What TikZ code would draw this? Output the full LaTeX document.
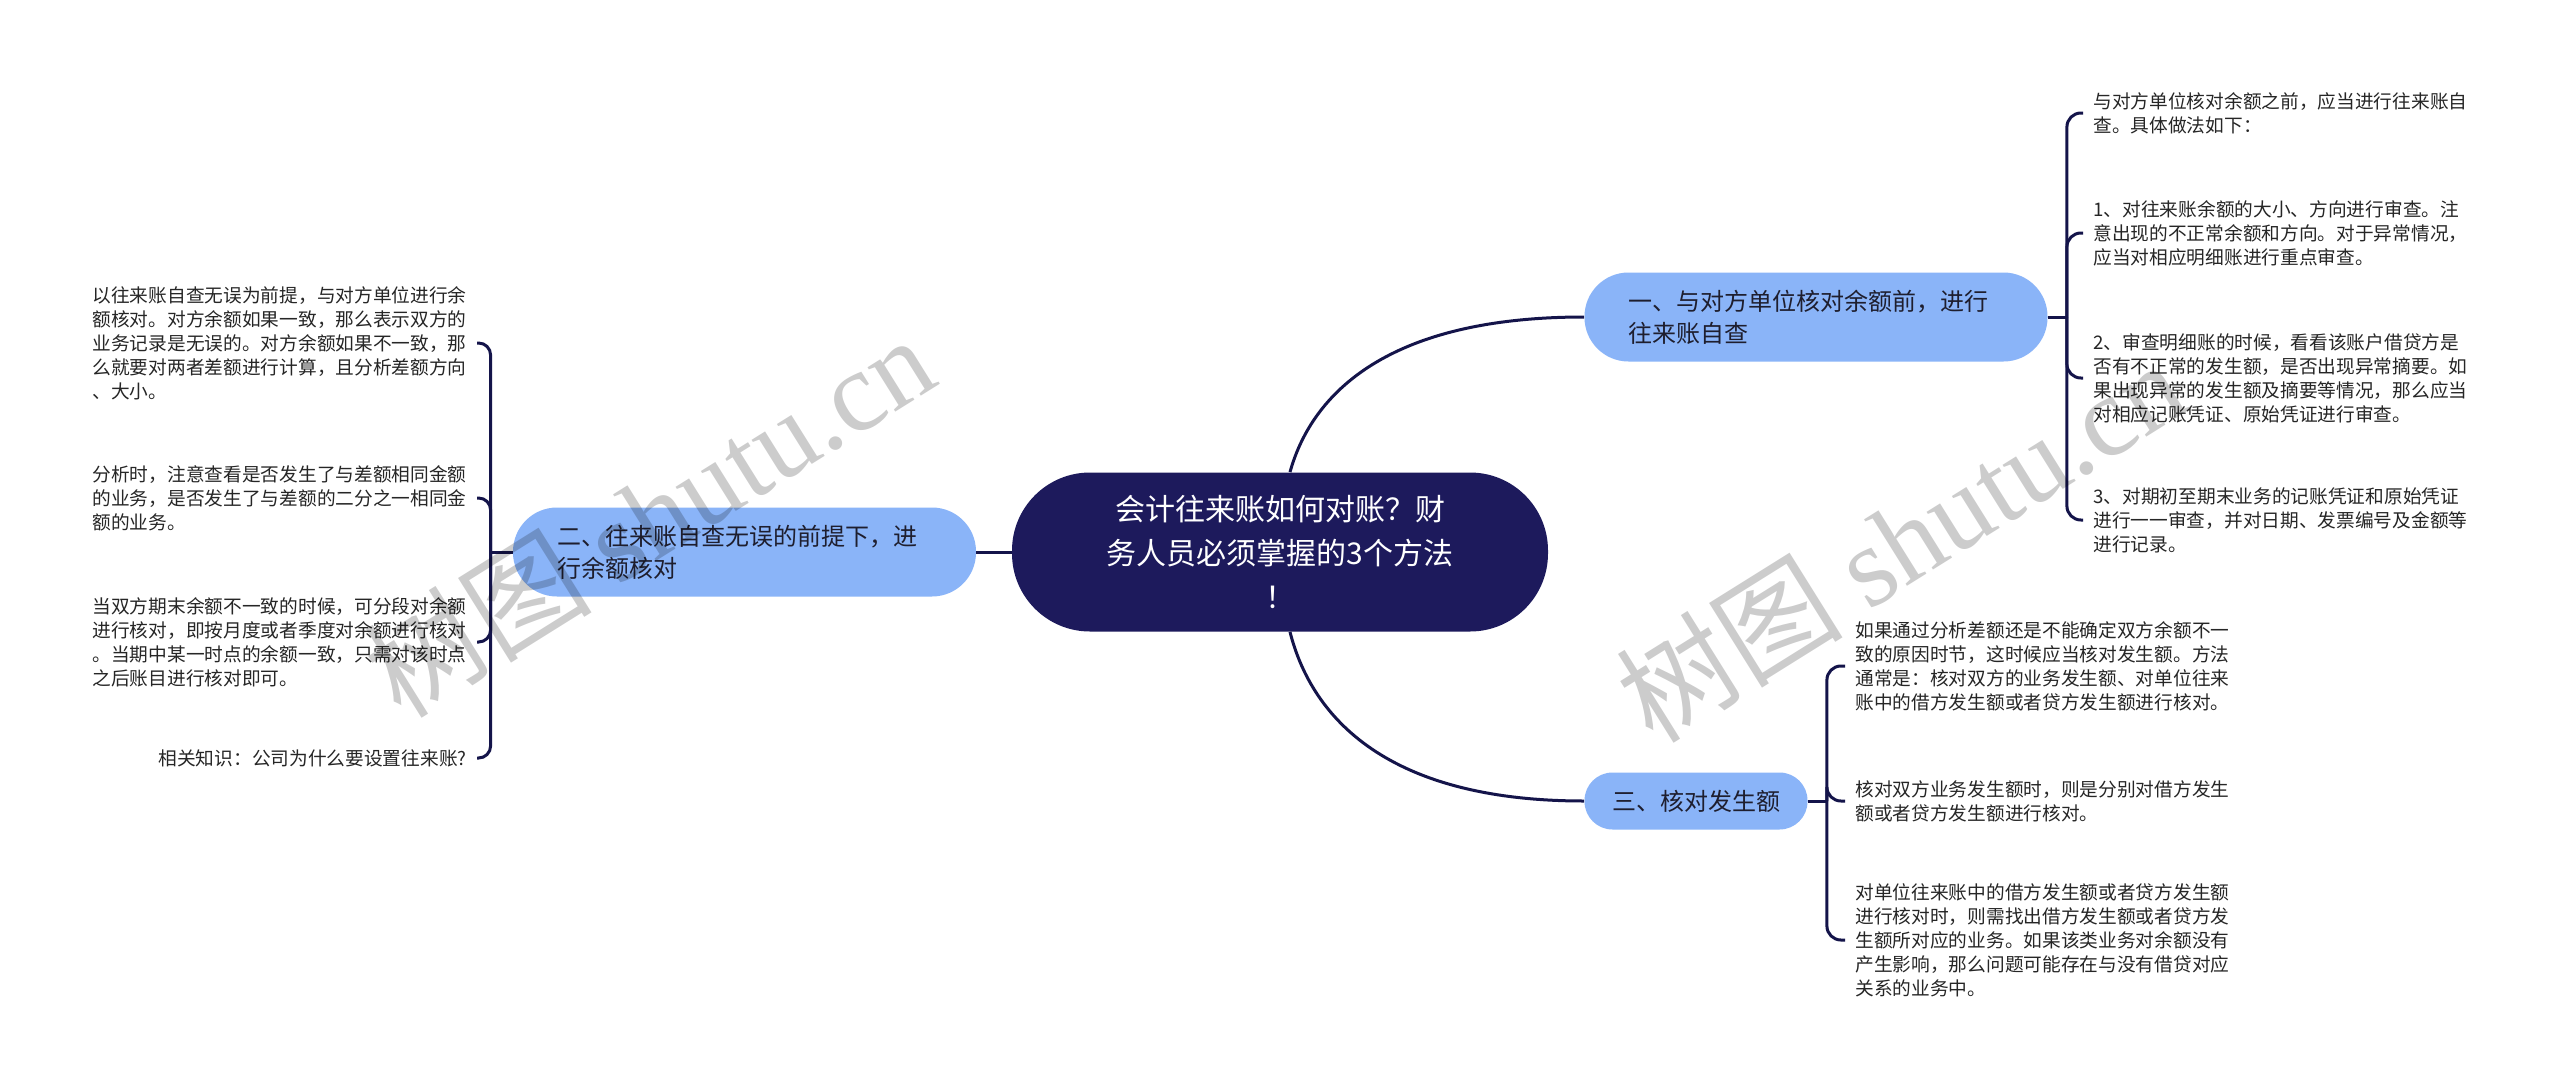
\documentclass[tikz,border=0pt]{standalone}
\usepackage{fontspec}
\setmainfont{Noto Sans CJK SC}
\newfontfamily\wmlatin{Liberation Serif}
\definecolor{rootfill}{HTML}{1D1A5C}
\definecolor{branchfill}{HTML}{8AB4F8}
\definecolor{linecol}{HTML}{14144A}
\definecolor{txtdark}{HTML}{1E1E2E}
\begin{document}
\begin{tikzpicture}[x=0.5pt,y=-0.5pt,
  conn/.style={draw=linecol,line width=1.5pt},
  rootbox/.style={fill=rootfill,rounded corners=39pt,minimum width=268pt,minimum height=79.5pt,text=white,align=center,font=\fontsize{15pt}{22pt}\selectfont,inner sep=0pt},
  branchbox/.style={fill=branchfill,rounded corners=22pt,minimum height=44.5pt,text=txtdark,align=left,font=\fontsize{12pt}{16pt}\selectfont,inner xsep=22pt,inner ysep=0pt,text width=187.5pt},
  smallbranch/.style={fill=branchfill,rounded corners=14pt,minimum height=28.5pt,text=txtdark,font=\fontsize{12pt}{16pt}\selectfont,inner xsep=13.75pt,inner ysep=0pt},
  leaf/.style={align=left,font=\fontsize{9.35pt}{12pt}\selectfont,inner xsep=5pt,inner ysep=0pt,text=black!85},
  wm/.style={font=\fontsize{57pt}{57pt}\selectfont,text=black,text opacity=0.2,inner sep=0pt}
]
\useasboundingbox (0,0) rectangle (2560,1092);
\fill[white] (0,0) rectangle (2560,1092);

% central and main topics
\node[rootbox] (root) at (1280,552) {会计往来账如何对账？财\\务人员必须掌握的3个方法\\！};
\node[branchbox] (b1) at (1816,317) {一、与对方单位核对余额前，进行\\往来账自查};
\node[branchbox] (b2) at (744.5,552) {二、往来账自查无误的前提下，进\\行余额核对};
\node[smallbranch] (b3) at (1696,801) {三、核对发生额};

% leaves of branch 1
\node[leaf,anchor=west] (r11) at (2083,113) {与对方单位核对余额之前，应当进行往来账自\\查。具体做法如下：};
\node[leaf,anchor=west] (r12) at (2083,233) {1、对往来账余额的大小、方向进行审查。注\\意出现的不正常余额和方向。对于异常情况，\\应当对相应明细账进行重点审查。};
\node[leaf,anchor=west] (r13) at (2083,378) {2、审查明细账的时候，看看该账户借贷方是\\否有不正常的发生额，是否出现异常摘要。如\\果出现异常的发生额及摘要等情况，那么应当\\对相应记账凭证、原始凭证进行审查。};
\node[leaf,anchor=west] (r14) at (2083,520) {3、对期初至期末业务的记账凭证和原始凭证\\进行一一审查，并对日期、发票编号及金额等\\进行记录。};

% leaves of branch 3
\node[leaf,anchor=west] (r31) at (1845,666) {如果通过分析差额还是不能确定双方余额不一\\致的原因时节，这时候应当核对发生额。方法\\通常是：核对双方的业务发生额、对单位往来\\账中的借方发生额或者贷方发生额进行核对。};
\node[leaf,anchor=west] (r32) at (1845,801) {核对双方业务发生额时，则是分别对借方发生\\额或者贷方发生额进行核对。};
\node[leaf,anchor=west] (r33) at (1845,940) {对单位往来账中的借方发生额或者贷方发生额\\进行核对时，则需找出借方发生额或者贷方发\\生额所对应的业务。如果该类业务对余额没有\\产生影响，那么问题可能存在与没有借贷对应\\关系的业务中。};

% leaves of branch 2
\node[leaf,anchor=east] (l21) at (477,343) {以往来账自查无误为前提，与对方单位进行余\\额核对。对方余额如果一致，那么表示双方的\\业务记录是无误的。对方余额如果不一致，那\\么就要对两者差额进行计算，且分析差额方向\\、大小。};
\node[leaf,anchor=east] (l22) at (477,498) {分析时，注意查看是否发生了与差额相同金额\\的业务，是否发生了与差额的二分之一相同金\\额的业务。};
\node[leaf,anchor=east] (l23) at (477,642) {当双方期末余额不一致的时候，可分段对余额\\进行核对，即按月度或者季度对余额进行核对\\。当期中某一时点的余额一致，只需对该时点\\之后账目进行核对即可。};
\node[leaf,anchor=east] (l24) at (477,758) {相关知识：公司为什么要设置往来账?};

% connectors root -> branches
\draw[conn] ([xshift=5pt]root.north) .. controls +(20,-72) and +(-205,0) .. (b1.west);
\draw[conn] ([xshift=5pt]root.south) .. controls +(20,79) and +(-205,0) .. (b3.west);
\draw[conn] (root.west) -- (b2.east);

% brackets
\draw[conn] (b1.east) -- ++(19,0) coordinate (j1);
\foreach \n in {r11,r12,r13,r14}
  \draw[conn,rounded corners=7pt] (j1) |- (\n.west);
\draw[conn] (b3.east) -- ++(19,0) coordinate (j3);
\foreach \n in {r31,r32,r33}
  \draw[conn,rounded corners=7pt] (j3) |- (\n.west);
\draw[conn] (b2.west) -- ++(-22,0) coordinate (j2);
\foreach \n in {l21,l22,l23,l24}
  \draw[conn,rounded corners=6pt] (j2) |- (\n.east);

% watermarks
\node[wm,rotate=32] (wm1) at (649,515) {树图 {\wmlatin shutu.cn}};
\node[wm,rotate=32] (wm2) at (1900,540) {树图 {\wmlatin shutu.cn}};
\end{tikzpicture}
\end{document}
